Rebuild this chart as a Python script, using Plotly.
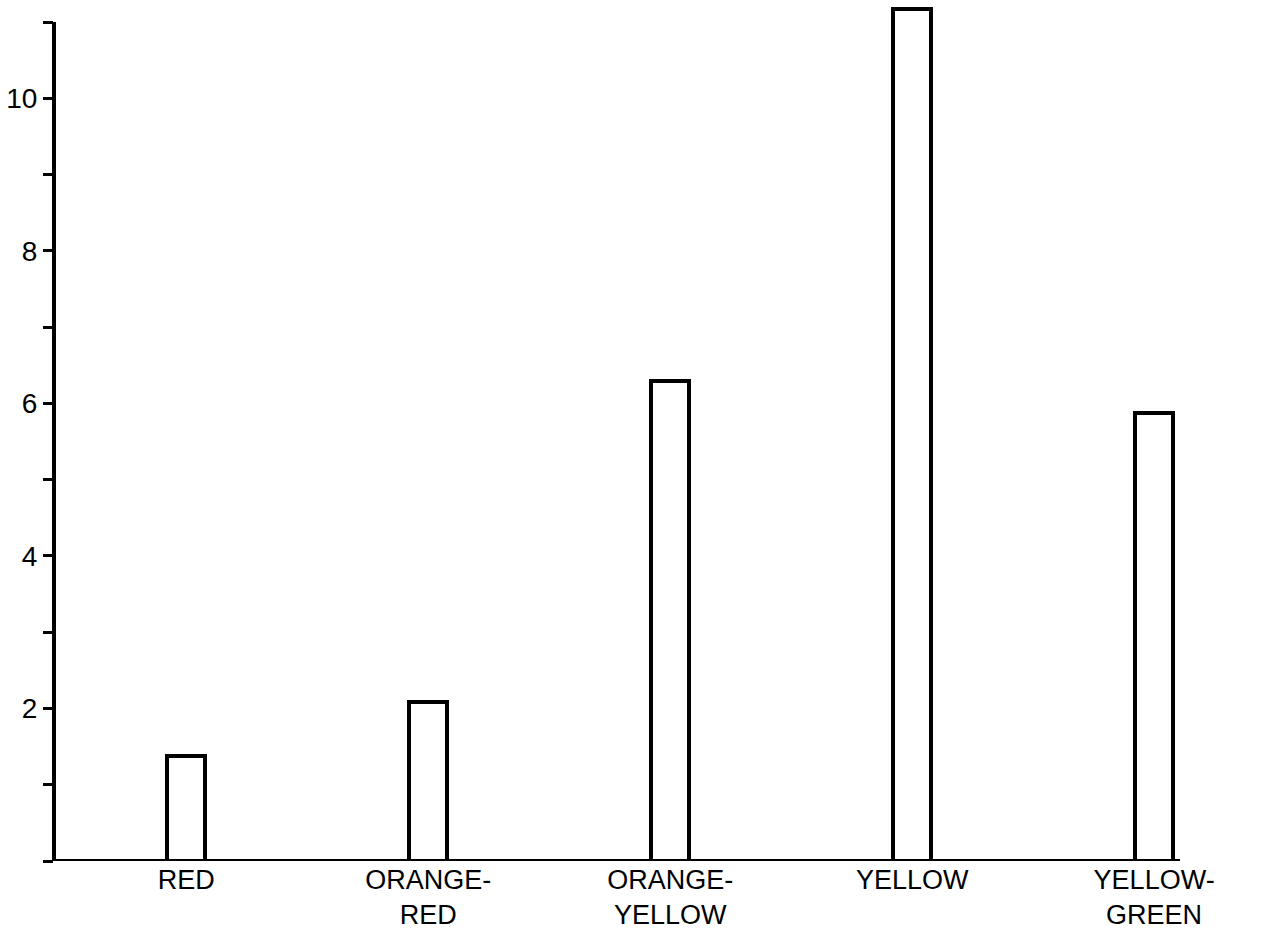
import plotly.graph_objects as go

categories = ["RED", "ORANGE-<br>RED", "ORANGE-<br>YELLOW", "YELLOW", "YELLOW-<br>GREEN"]
values = [1.38, 2.08, 6.3, 11.17, 5.88]
ytick_vals = list(range(0, 12))
ytick_text = ["" if (v % 2 or v == 0) else str(v) for v in ytick_vals]

fig = go.Figure()
fig.add_trace(go.Bar(
    x=list(range(len(categories))), y=values, width=0.157,
    marker=dict(color="white", line=dict(color="black", width=4)),
    showlegend=False, hoverinfo="skip",
))

fig.update_layout(
    width=1262, height=933,
    margin=dict(l=54, r=82, t=3, b=72),
    paper_bgcolor="white", plot_bgcolor="white",
    font=dict(family="Liberation Sans, Arial, sans-serif", color="black"),
    bargap=0,
)
fig.update_xaxes(
    range=[-0.547, 4.107], tickvals=list(range(len(categories))), ticktext=categories,
    showgrid=False, zeroline=False, showline=False, automargin=False,
    ticks="", tickfont=dict(size=27, color="black"),
)
fig.update_yaxes(
    range=[0, 11.25], tickvals=ytick_vals, ticktext=ytick_text,
    showgrid=False, zeroline=False, showline=False, automargin=False,
    ticks="outside", ticklen=10, tickwidth=3, tickcolor="black",
    tickfont=dict(size=28, color="black"),
)
# axis lines
fig.add_shape(type="line", xref="paper", yref="y", x0=0, x1=0, y0=0, y1=11.0,
              line=dict(color="black", width=4))
fig.add_shape(type="line", xref="paper", yref="y", x0=0, x1=1, y0=0, y1=0,
              line=dict(color="black", width=4))

fig.write_html("out.html", config={"displayModeBar": False},
               post_script="document.body.style.margin='0';document.body.style.overflow='hidden';")
